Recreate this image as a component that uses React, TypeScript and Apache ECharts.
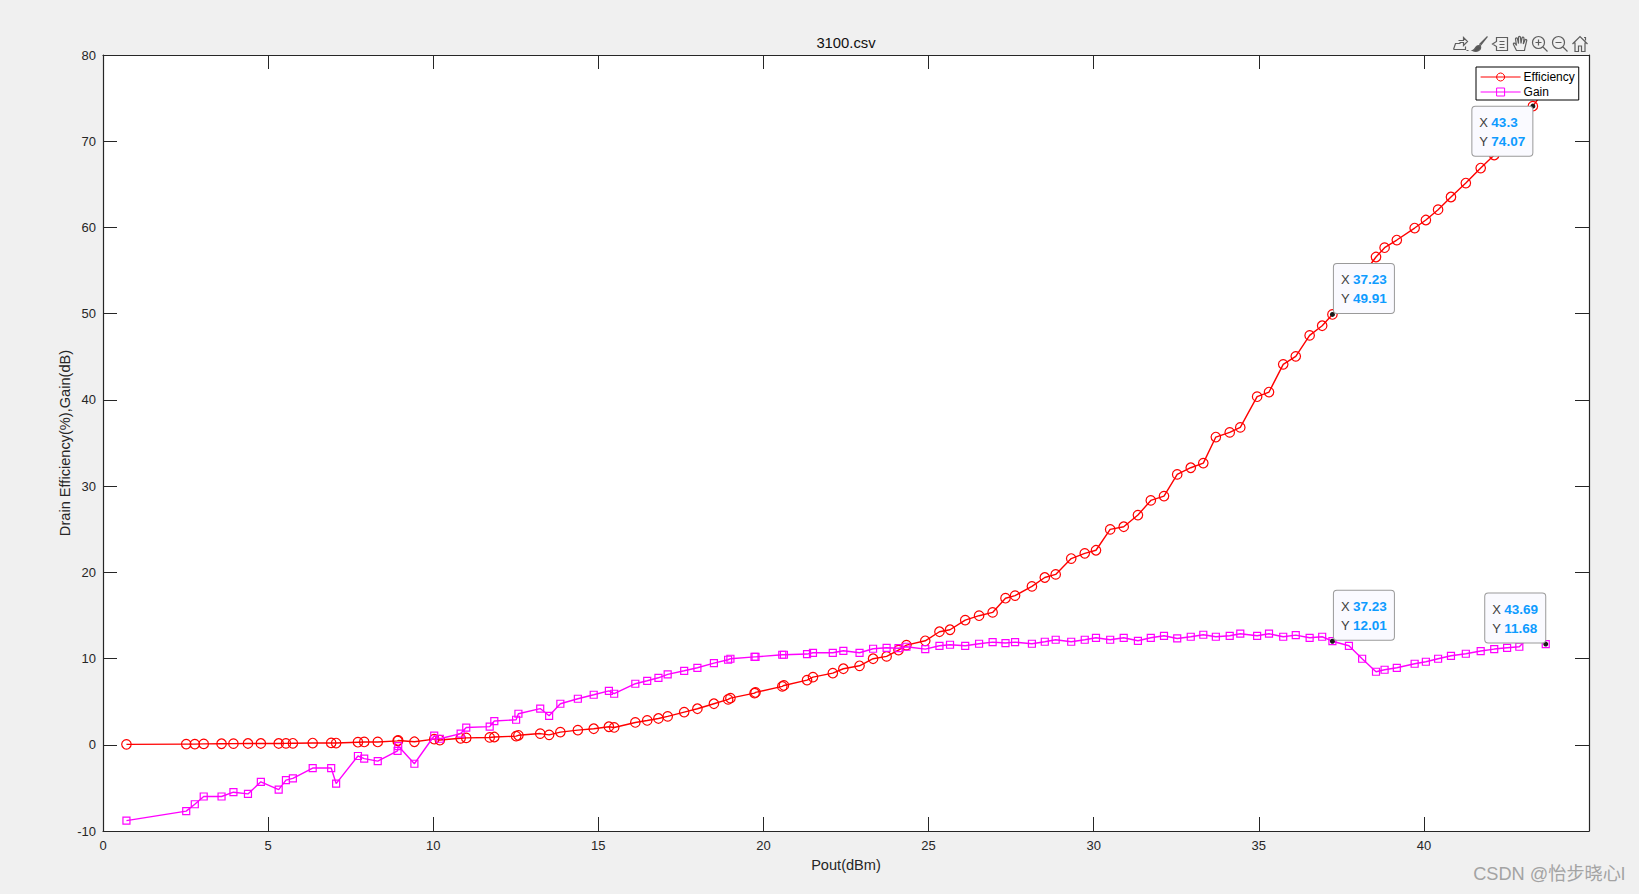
import React, { useEffect, useRef } from "react";
import * as echarts from "echarts";

const pout = [
  0.71, 2.52, 2.78, 3.05, 3.59, 3.95, 4.39, 4.78, 5.32, 5.54, 5.75, 6.35, 6.91, 7.06, 7.72, 7.91, 8.32, 8.92, 8.94, 9.43,
  10.03, 10.2, 10.83, 11.0, 11.71, 11.85, 12.51, 12.58, 13.24, 13.51, 13.85, 14.38, 14.86, 15.32, 15.48, 16.12, 16.48, 16.82, 17.1, 17.6,
  18.0, 18.5, 18.93, 19.0, 19.73, 19.76, 20.57, 20.62, 21.32, 21.5, 22.1, 22.42, 22.91, 23.32, 23.73, 24.09, 24.33, 24.9, 25.33, 25.65,
  26.11, 26.53, 26.94, 27.33, 27.62, 28.13, 28.52, 28.85, 29.32, 29.73, 30.07, 30.5, 30.91, 31.34, 31.73, 32.13, 32.53, 32.94, 33.32, 33.7,
  34.12, 34.44, 34.95, 35.31, 35.74, 36.12, 36.54, 36.92, 37.23, 37.73, 38.13, 38.55, 38.81, 39.18, 39.72, 40.06, 40.43, 40.82, 41.27, 41.72,
  42.13, 42.52, 42.89, 43.3, 43.69,
];
const efficiency = [
  0.05, 0.08, 0.08, 0.1, 0.12, 0.13, 0.15, 0.15, 0.15, 0.16, 0.17, 0.2, 0.22, 0.2, 0.3, 0.33, 0.33, 0.45, 0.5, 0.35,
  0.65, 0.55, 0.75, 0.8, 0.85, 0.9, 1.0, 1.1, 1.3, 1.15, 1.47, 1.7, 1.86, 2.09, 2.01, 2.59, 2.82, 3.05, 3.29, 3.79,
  4.18, 4.76, 5.26, 5.41, 5.99, 6.07, 6.77, 6.88, 7.5, 7.85, 8.31, 8.82, 9.16, 9.98, 10.25, 10.98, 11.56, 12.06, 13.11, 13.34,
  14.46, 14.97, 15.35, 17.0, 17.3, 18.37, 19.4, 19.76, 21.6, 22.2, 22.56, 24.98, 25.29, 26.64, 28.34, 28.84, 31.36, 32.13, 32.67, 35.69,
  36.23, 36.81, 40.37, 40.91, 44.12, 45.05, 47.48, 48.6, 49.91, 52.2, 54.4, 56.57, 57.65, 58.54, 59.93, 60.86, 62.06, 63.53, 65.15, 66.89,
  68.4, 70.1, 72.2, 74.07, 76.1,
];
const gain = [
  -8.8, -7.7, -6.9, -6.0, -6.0, -5.5, -5.7, -4.3, -5.2, -4.1, -3.9, -2.7, -2.7, -4.5, -1.3, -1.6, -1.9, -0.7, -0.15, -2.2,
  1.05, 0.7, 1.3, 2.0, 2.1, 2.75, 2.9, 3.6, 4.2, 3.36, 4.76, 5.34, 5.8, 6.26, 5.92, 7.08, 7.42, 7.77, 8.16, 8.58,
  8.93, 9.47, 9.86, 9.98, 10.2, 10.2, 10.44, 10.44, 10.52, 10.67, 10.67, 10.9, 10.67, 11.14, 11.25, 11.2, 11.37, 11.1, 11.48, 11.6,
  11.48, 11.72, 11.91, 11.8, 11.91, 11.72, 11.95, 12.18, 11.95, 12.18, 12.41, 12.18, 12.41, 12.06, 12.41, 12.64, 12.33, 12.53, 12.76, 12.53,
  12.64, 12.88, 12.64, 12.88, 12.53, 12.72, 12.41, 12.53, 12.01, 11.48, 9.98, 8.47, 8.7, 8.93, 9.4, 9.63, 9.98, 10.32, 10.56, 10.87,
  11.1, 11.25, 11.37, 13.0, 11.68,
];

const xTicks = { min: 0, max: 45, interval: 5 };
const yTicks = { min: -10, max: 80, interval: 10 };
const hiddenXLabel = 45;

const tipX = [37.23, 43.3, 37.23, 43.69];
const tipY = [49.91, 74.07, 12.01, 11.68];
// placement of each data tip box relative to its point: [dx, dy]
const tipOffset: [number, number][] = [
  [2, -50],
  [-60, 1],
  [2, -50],
  [-60, -50],
];

const FONT = "'Liberation Sans', Arial, sans-serif";
const DARK = "#262626";

const icons: Record<string, string> = {
  iExport: "M2 14 L14 14 L14 11 M2 14 L4 8 L9 8 M7 5 L12 5 L12 2 L16 6 L12 10 L12 7 L8 7 M15 15 L17 15",
  iBrush: "M16 1 L8 9 M16 1 L9 10 M8 9 L9 10 M7 10 C3 10 5 14 1 15 C5 17 10 15 9 11 Z",
  iData: "M5 2 L16 2 L16 15 L5 15 L5 11 L1 8.5 L5 6 Z M8 6 L13 6 M8 9 L13 9 M8 12 L13 12",
  iHand: "M5 15 L2 9 C1.5 7.5 3 7 4 8.5 L5 10 L4 3.5 C4 2 6 2 6 3.5 L7 8 L7 2 C7 0.5 9 0.5 9 2 L9.5 8 L10.5 2.5 C11 1 12.5 1.5 12.5 3 L11.8 8.5 L13.5 4.5 C14 3.3 15.5 4 15.2 5.2 L13.5 12 L13 15 Z",
  iZoomIn: "M13 7 A6 6 0 1 1 1 7 A6 6 0 1 1 13 7 Z M11.5 11.5 L16 16 M7 4 L7 10 M4 7 L10 7",
  iZoomOut: "M13 7 A6 6 0 1 1 1 7 A6 6 0 1 1 13 7 Z M11.5 11.5 L16 16 M4 7 L10 7",
  iHome: "M1 8.5 L8.5 1 L16 8.5 M3.5 7 L3.5 16 L7 16 L7 10.5 L10 10.5 L10 16 L13.5 16 L13.5 7 M12.5 2 L14 2 L14 5",
};
const iconCenters = [1460, 1480, 1500, 1520, 1540, 1560, 1580];

export default function App() {
  const ref = useRef<HTMLDivElement>(null);
  useEffect(() => {
    const names = Object.keys(icons);
    names.forEach((n) => echarts.graphic.registerShape(n, echarts.graphic.extendPath(icons[n], {})));
    const chart = echarts.init(ref.current!, undefined, { renderer: "svg" });
    const axisBase = {
      type: "value" as const,
      axisLine: { show: true, onZero: false, lineStyle: { color: DARK, width: 1.2 } },
      axisTick: { show: true, inside: true, length: 14, lineStyle: { color: DARK, width: 1 } },
      splitLine: { show: false },
    };
    const labelStyle = { color: DARK, fontFamily: FONT, fontSize: 13 };
    const nameStyle = { color: DARK, fontFamily: FONT, fontSize: 14.6 };
    chart.setOption({
      animation: false,
      backgroundColor: "#f0f0f0",
      title: {
        text: "3100.csv",
        left: 846,
        top: 35,
        textAlign: "center",
        textStyle: { color: "#111", fontFamily: FONT, fontSize: 14.8, fontWeight: "normal" },
        padding: 0,
      },
      legend: {
        left: 1476,
        top: 67,
        orient: "vertical",
        padding: [4, 4, 2, 4],
        itemGap: 3,
        itemWidth: 40,
        itemHeight: 10,
        align: "left",
        backgroundColor: "#ffffff",
        borderColor: "#000000",
        borderWidth: 1,
        borderRadius: 0,
        lineStyle: { width: 1.2 },
        itemStyle: { borderWidth: 1 },
        data: ["Efficiency", "Gain"],
        textStyle: { color: "#000", fontFamily: FONT, fontSize: 12, padding: [0, 0, 0, -2] },
      },
      grid: { left: 103, right: 50, top: 55, bottom: 63, backgroundColor: "#fff", show: true, borderWidth: 0 },
      xAxis: [
        {
          ...axisBase,
          ...xTicks,
          position: "bottom",
          name: "Pout(dBm)",
          nameLocation: "middle",
          nameGap: 26,
          nameTextStyle: nameStyle,
          axisLabel: {
            ...labelStyle,
            margin: 8,
            formatter: (v: number) => (v === hiddenXLabel ? "" : String(v)),
          },
        },
        { ...axisBase, ...xTicks, position: "top", axisLabel: { show: false } },
      ],
      yAxis: [
        {
          ...axisBase,
          ...yTicks,
          position: "left",
          name: "Drain Efficiency(%),Gain(dB)",
          nameLocation: "middle",
          nameGap: 31,
          nameMoveOverlap: false,
          nameRotate: 90,
          nameTextStyle: nameStyle,
          axisLabel: { ...labelStyle, margin: 7 },
        },
        { ...axisBase, ...yTicks, position: "right", axisLabel: { show: false } },
      ],
      series: [
        {
          name: "Efficiency",
          type: "line",
          data: pout.map((x, i) => [x, efficiency[i]]),
          symbol: "circle",
          symbolSize: 9.5,
          showSymbol: true,
          showAllSymbol: true,
          lineStyle: { color: "#ff0000", width: 1.4 },
          itemStyle: { color: "transparent", borderColor: "#ff0000", borderWidth: 1.2 },
          z: 2,
        },
        {
          name: "Gain",
          type: "line",
          data: pout.map((x, i) => [x, gain[i]]),
          symbol: "rect",
          symbolSize: 7,
          showSymbol: true,
          showAllSymbol: true,
          lineStyle: { color: "#ff00ff", width: 1.4 },
          itemStyle: { color: "transparent", borderColor: "#ff00ff", borderWidth: 1.2 },
          z: 3,
        },
        {
          type: "scatter",
          name: "tips",
          z: 6,
          symbol: "circle",
          symbolSize: 5,
          itemStyle: { color: "#1a1a1a", opacity: 1 },
          silent: true,
          data: tipX.map((x, i) => ({
            value: [x, tipY[i]],
            label: {
              show: true,
              position: [tipOffset[i][0] + 2, tipOffset[i][1] + 2],
              formatter: `{k|X} {v|${x}}\n{k|Y} {v|${tipY[i]}}`,
              backgroundColor: "#fafaff",
              borderColor: "#9a9a9a",
              borderWidth: 1,
              borderRadius: 3,
              width: 47,
              height: 37,
              padding: [6, 6, 6, 7],
              lineHeight: 19,
              rich: {
                k: { color: "#404040", fontFamily: FONT, fontSize: 13, lineHeight: 19 },
                v: { color: "#0d9bff", fontFamily: FONT, fontSize: 13.5, fontWeight: "bold", lineHeight: 19 },
              },
            },
          })),
        },
      ],
      graphic: [
        ...names.map((n, i) => ({
          type: n,
          x: iconCenters[i] - 8.5,
          y: 35.5,
          silent: true,
          style: { fill: n === "iBrush" ? "#555" : "none", stroke: "#5e5e5e", lineWidth: 1.2 },
        })),
        {
          type: "text",
          right: 14,
          top: 865,
          silent: true,
          style: {
            text: "CSDN @怡步晓心l",
            fill: "#a3a3a3",
            fontSize: 18.2,
            fontFamily: "'Liberation Sans', 'Noto Sans CJK SC', sans-serif",
          },
        },
      ],
    });
    return () => chart.dispose();
  }, []);
  return (
    <div
      ref={ref}
      style={{ position: "fixed", left: 0, top: 0, width: 1639, height: 894 }}
    />
  );
}
